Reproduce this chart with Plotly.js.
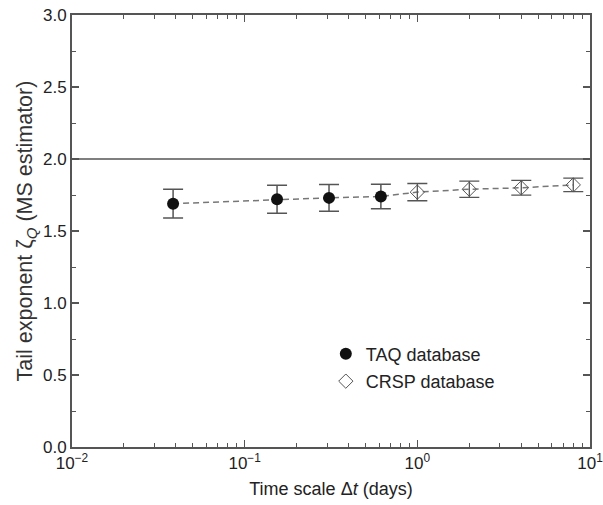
<!DOCTYPE html>
<html>
<head>
<meta charset="utf-8">
<script src="https://cdn.plot.ly/plotly-3.0.1.min.js"></script>
<style>html,body{margin:0;padding:0;background:#fff;}#chart{width:603px;height:505px;}</style>
</head>
<body>
<div id="chart"></div>
<script>
// TAQ database (intraday time scales, days)
var taqX = [0.0385, 0.154, 0.308, 0.615];
var taqY = [1.69, 1.72, 1.73, 1.74];
var taqErr = [0.10, 0.097, 0.093, 0.085];
// CRSP database (daily time scales)
var crspX = [1, 2, 4, 8];
var crspY = [1.77, 1.79, 1.80, 1.82];
var crspErr = [0.06, 0.056, 0.051, 0.047];
var refLevel = 2.0;
var xTickVals = [0.01, 0.1, 1, 10];
var xTickText = ['10<sup>−2</sup>', '10<sup>−1</sup>', '10<sup>0</sup>', '10<sup>1</sup>'];

var axisColor = '#555';
var textColor = '#222';
var traces = [
  {
    x: taqX.concat(crspX), y: taqY.concat(crspY),
    mode: 'lines', showlegend: false, hoverinfo: 'skip',
    line: {color: '#777', width: 1.5, dash: '6px,4px'}
  },
  {
    x: taqX, y: taqY, mode: 'markers', name: 'TAQ database', legendgroup: 'taq',
    marker: {symbol: 'circle', size: 12, color: '#111'},
    error_y: {type: 'data', array: taqErr, visible: true, color: '#555', thickness: 1.5, width: 10}
  },
  {
    x: crspX, y: crspY, mode: 'markers', name: 'CRSP database', legendgroup: 'crsp',
    marker: {symbol: 'diamond-open', size: 11, color: '#555', line: {width: 1, color: '#555'}},
    error_y: {type: 'data', array: crspErr, visible: true, color: '#555', thickness: 1.3, width: 10}
  }
];

var layout = {
  width: 603, height: 505,
  margin: {l: 72, r: 13, t: 15, b: 58},
  paper_bgcolor: '#fff', plot_bgcolor: '#fff',
  font: {family: 'Liberation Sans, Arial, sans-serif', size: 17, color: textColor},
  showlegend: true,
  legend: {x: 0.49, y: 0.258, xanchor: 'left', yanchor: 'top', bgcolor: 'rgba(0,0,0,0)',
           font: {size: 18, color: textColor}, tracegroupgap: 1, itemwidth: 30},
  xaxis: {
    type: 'log', range: [-2, 1],
    tickvals: xTickVals, ticktext: xTickText, ticklabeloverflow: 'allow',
    ticks: 'inside', ticklen: 7, tickwidth: 1.5, tickcolor: axisColor,
    showline: true, linecolor: axisColor, linewidth: 2, mirror: 'ticks',
    showgrid: false, zeroline: false,
    minor: {dtick: 'D1', ticks: 'inside', ticklen: 4, tickcolor: axisColor, tickwidth: 1, showgrid: false},
    tickfont: {size: 17, color: textColor},
    title: {text: 'Time scale Δ<i>t</i> (days)', font: {size: 18, color: textColor}, standoff: 10}
  },
  yaxis: {
    range: [0, 3], dtick: 0.5, tickformat: '.1f',
    ticks: 'inside', ticklen: 7, tickwidth: 1.5, tickcolor: axisColor,
    showline: true, linecolor: axisColor, linewidth: 2, mirror: 'ticks',
    showgrid: false, zeroline: false,
    minor: {dtick: 0.25, ticks: 'inside', ticklen: 4, tickcolor: axisColor, tickwidth: 1, showgrid: false},
    tickfont: {size: 17, color: textColor},
    title: {text: 'Tail exponent ζ<sub><i>Q</i></sub> (MS estimator)', font: {size: 21.5, color: '#333'}, standoff: 4}
  },
  shapes: [{
    type: 'line', xref: 'paper', x0: 0, x1: 1, yref: 'y', y0: refLevel, y1: refLevel,
    line: {color: '#555', width: 1.5}
  }]
};

Plotly.newPlot('chart', traces, layout, {displayModeBar: false, staticPlot: true});
</script>
</body>
</html>
